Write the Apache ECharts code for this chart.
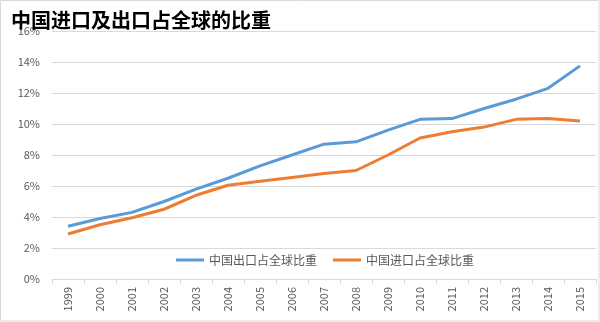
<!DOCTYPE html>
<html><head><meta charset="utf-8">
<script src="https://cdn.jsdelivr.net/npm/echarts@6/dist/echarts.min.js"></script>
<style>html,body{margin:0;padding:0;background:#fff}#c{width:600px;height:322px}</style>
</head><body><div id="c"></div>
<script>
const years = ['1999','2000','2001','2002','2003','2004','2005','2006','2007','2008','2009','2010','2011','2012','2013','2014','2015'];
const exportShare = [3.4, 3.9, 4.3, 5.0, 5.8, 6.5, 7.3, 8.0, 8.7, 8.85, 9.6, 10.3, 10.35, 11.0, 11.6, 12.3, 13.75];
const importShare = [2.9, 3.5, 3.95, 4.5, 5.4, 6.05, 6.3, 6.55, 6.8, 7.0, 8.0, 9.1, 9.5, 9.8, 10.3, 10.35, 10.2];
const seriesNames = ['中国出口占全球比重', '中国进口占全球比重'];
const titleText = '中国进口及出口占全球的比重';

const chart = echarts.init(document.getElementById('c'), null, {renderer: 'canvas'});
const font = '"Microsoft YaHei","Noto Sans CJK SC",sans-serif';
chart.setOption({
  animation: false,
  backgroundColor: '#fff',
  title: {
    text: titleText, left: 6, top: 5,
    textStyle: {fontSize: 20, fontWeight: 'bold', color: '#000', fontFamily: '"Noto Sans CJK SC",sans-serif'}
  },
  graphic: [{type: 'rect', shape: {x: 0.5, y: 0.5, width: 598.5, height: 320.5}, style: {fill: null, stroke: '#d9d9d9', lineWidth: 1}}],
  legend: {
    data: seriesNames, left: 171, top: 249, itemWidth: 28, itemHeight: 3, itemGap: 16,
    icon: 'rect',
    textStyle: {fontSize: 12, color: '#595959', fontFamily: font}
  },
  grid: {left: 52, right: 4, top: 31, bottom: 43},
  xAxis: {
    type: 'category', data: years, boundaryGap: true,
    axisLine: {lineStyle: {color: '#d9d9d9'}},
    axisTick: {show: true, length: 5, lineStyle: {color: '#d9d9d9'}},
    axisLabel: {rotate: 90, fontSize: 11, color: '#595959', margin: 8, fontFamily: font}
  },
  yAxis: {
    type: 'value', min: 0, max: 16, interval: 2,
    axisLine: {show: false}, axisTick: {show: false},
    splitLine: {lineStyle: {color: '#d9d9d9'}},
    axisLabel: {formatter: '{value}%', fontSize: 11, color: '#595959', margin: 12, fontFamily: font}
  },
  series: [
    {name: seriesNames[0], type: 'line', data: exportShare, symbol: 'none', lineStyle: {width: 3, color: '#5B9BD5'}, itemStyle: {color: '#5B9BD5'}},
    {name: seriesNames[1], type: 'line', data: importShare, symbol: 'none', lineStyle: {width: 3, color: '#ED7D31'}, itemStyle: {color: '#ED7D31'}}
  ]
});
</script></body></html>
